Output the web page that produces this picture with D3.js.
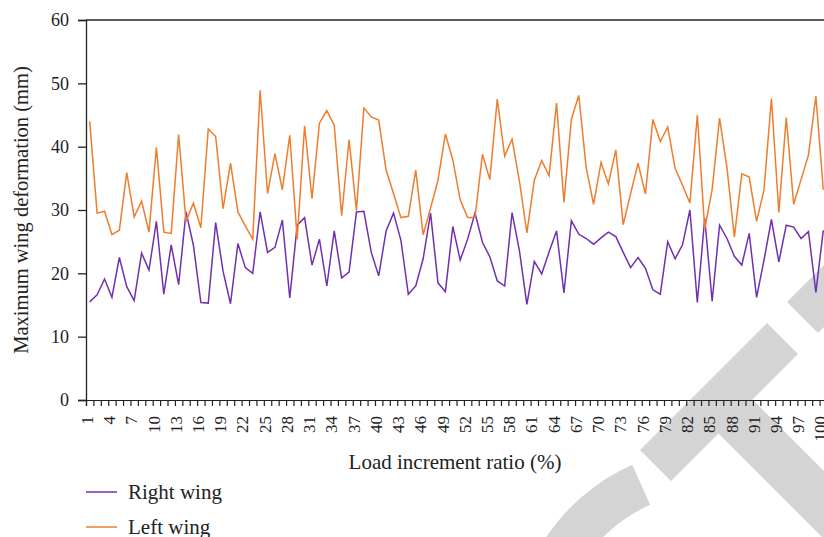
<!DOCTYPE html>
<html>
<head>
<meta charset="utf-8">
<script src="https://cdn.jsdelivr.net/npm/d3@7"></script>
<style>
  html, body { margin: 0; padding: 0; background: #fff; }
  svg { display: block; font-family: "Liberation Serif", "Times New Roman", serif; }
</style>
</head>
<body>
<svg id="chart" width="824" height="537"></svg>
<script>
// Load increment ratio (%) categories
const loadRatio = d3.range(1, 101);

// Maximum wing deformation (mm)
const rightWing = [
  15.5, 16.6, 19.1, 16.2, 22.5, 17.9, 15.7, 23.2, 20.5, 28.2,
  16.7, 24.5, 18.2, 29.7, 24.4, 15.4, 15.3, 28.0, 20.3, 15.2,
  24.7, 20.9, 20.0, 29.7, 23.3, 24.1, 28.4, 16.1, 27.6, 28.8,
  21.3, 25.4, 18.0, 26.7, 19.3, 20.2, 29.7, 29.8, 23.3, 19.6,
  26.7, 29.5, 25.2, 16.7, 18.0, 22.3, 29.5, 18.5, 17.1, 27.4,
  22.1, 25.4, 29.5, 24.9, 22.6, 18.8, 18.0, 29.6, 23.5, 15.1,
  21.9, 19.9, 23.4, 26.7, 16.9, 28.3, 26.2, 25.5, 24.6, 25.6,
  26.5, 25.8, 23.3, 20.9, 22.5, 20.8, 17.4, 16.7, 25.0, 22.3,
  24.5, 30.0, 15.4, 28.7, 15.6, 27.6, 25.5, 22.7, 21.3, 26.3,
  16.2, 22.1, 28.5, 21.8, 27.6, 27.3, 25.5, 26.6, 17.0, 26.8
];

const leftWing = [
  44.0, 29.5, 29.8, 26.1, 26.8, 35.9, 28.9, 31.4, 26.5, 39.9,
  26.5, 26.3, 41.9, 28.2, 31.1, 27.2, 42.8, 41.6, 30.2, 37.4,
  29.7, 27.5, 25.4, 48.9, 32.6, 38.9, 33.2, 41.8, 25.4, 43.3,
  31.8, 43.7, 45.7, 43.4, 29.1, 41.1, 29.9, 46.1, 44.7, 44.2,
  36.3, 32.6, 28.8, 29.0, 36.3, 26.1, 30.3, 34.7, 42.0, 37.9,
  31.6, 28.8, 28.8, 38.8, 34.8, 47.5, 38.5, 41.2, 34.5, 26.4,
  34.7, 37.8, 35.4, 46.9, 31.2, 44.3, 48.1, 36.7, 30.9, 37.5,
  34.1, 39.5, 27.7, 32.6, 37.4, 32.5, 44.3, 40.8, 43.1, 36.6,
  33.9, 31.1, 45.0, 27.0, 33.2, 44.5, 36.7, 25.7, 35.7, 35.2,
  28.2, 33.2, 47.6, 29.6, 44.6, 30.9, 34.8, 38.7, 48.0, 33.2
];

const xTickLabels = d3.range(1, 101, 3);
const yTicks = [0, 10, 20, 30, 40, 50, 60];

const seriesNames = ["Right wing", "Left wing"];
const seriesColors = ["#7030b0", "#ee7d2c"];

const svg = d3.select("#chart");
const plotLeft = 86, plotRight = 827, plotTop = 20, plotBottom = 400;

const x = d3.scaleLinear().domain([0.5, 100.5]).range([plotLeft, plotRight]);
const y = d3.scaleLinear().domain([0, 60]).range([plotBottom, plotTop]);

// light grey emblem in the background
const emblem = svg.append("g").attr("fill", "#d4d4d4");
emblem.append("polygon").attr("points", "787,302 818,333 900,251 869,220");
emblem.append("polygon").attr("points", "767,323 798,354 671,481 640,450");
emblem.append("polygon").attr("points", "737,384 905,552 837,552 703,418");
emblem.append("path")
  .attr("transform", "translate(715,650)")
  .attr("d", d3.arc()
    .innerRadius(159).outerRadius(203)
    .startAngle(-0.42).endAngle(-1.6)());

// frame top
svg.append("line")
  .attr("x1", plotLeft).attr("x2", plotRight).attr("y1", plotTop).attr("y2", plotTop)
  .attr("stroke", "#222").attr("stroke-width", 1.3);

// y axis
const yAxis = svg.append("g")
  .attr("transform", `translate(${plotLeft},0)`)
  .call(d3.axisLeft(y).tickValues(yTicks).tickSize(8).tickPadding(9));
yAxis.selectAll("path, line").attr("stroke", "#222").attr("stroke-width", 1.3);
yAxis.selectAll("text").attr("font-size", 18).attr("fill", "#222")
  .attr("font-family", "Liberation Serif, serif");

// x axis: category boundary ticks
const xAxis = svg.append("g")
  .attr("transform", `translate(0,${plotBottom})`)
  .call(d3.axisBottom(x).tickValues(d3.range(0.5, 100.6, 1)).tickSize(6).tickFormat(""));
xAxis.selectAll("path, line").attr("stroke", "#222").attr("stroke-width", 1.2);

// x axis labels every third category
const xLab = svg.append("g")
  .attr("transform", `translate(0,${plotBottom})`)
  .call(d3.axisBottom(x).tickValues(xTickLabels).tickSize(0).tickFormat(d3.format("d")));
xLab.select(".domain").remove();
xLab.selectAll("text")
  .attr("font-size", 17).attr("fill", "#222")
  .attr("font-family", "Liberation Serif, serif")
  .attr("text-anchor", "end")
  .attr("y", 0).attr("x", -16).attr("dy", "0.33em")
  .attr("transform", "translate(-3,0) rotate(-90)");

// axis titles
svg.append("text")
  .attr("x", 455).attr("y", 469)
  .attr("text-anchor", "middle").attr("font-size", 21).attr("fill", "#222")
  .text("Load increment ratio (%)");
svg.append("text")
  .attr("transform", "translate(28,210) rotate(-90)")
  .attr("text-anchor", "middle").attr("font-size", 20.5).attr("fill", "#222")
  .text("Maximum wing deformation (mm)");

// series lines
const line = d3.line()
  .x((d, i) => x(loadRatio[i]))
  .y(d => y(d));

[rightWing, leftWing].forEach((vals, k) => {
  svg.append("path")
    .datum(vals)
    .attr("fill", "none")
    .attr("stroke", seriesColors[k])
    .attr("stroke-width", 1.5)
    .attr("stroke-linejoin", "miter")
    .attr("d", line);
});

// legend
const legend = svg.append("g");
seriesNames.forEach((name, k) => {
  const ly = 492 + k * 35;
  legend.append("line")
    .attr("x1", 86).attr("x2", 117).attr("y1", ly).attr("y2", ly)
    .attr("stroke", seriesColors[k]).attr("stroke-width", 1.5);
  legend.append("text")
    .attr("x", 128).attr("y", ly + 6.5)
    .attr("font-size", 21).attr("fill", "#222")
    .text(name);
});
</script>
</body>
</html>
